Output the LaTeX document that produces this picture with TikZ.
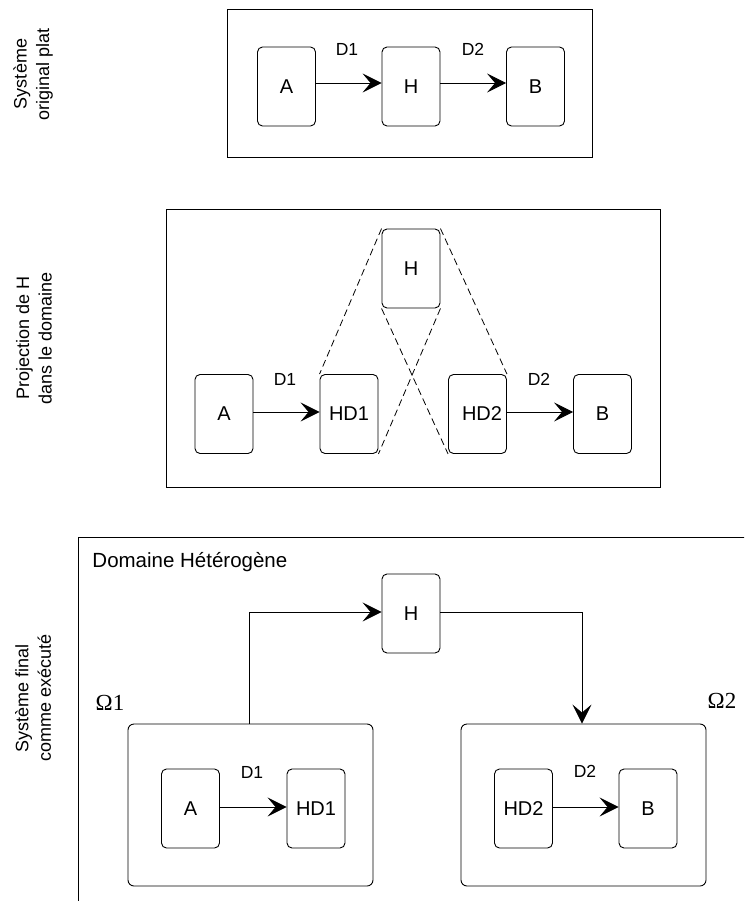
\documentclass[tikz,border=0pt]{standalone}
\usepackage{fontspec}
\setmainfont{Liberation Sans}
\newfontfamily\greekserif{Liberation Serif}
\usetikzlibrary{arrows.meta}

\begin{document}
\begin{tikzpicture}[x=1pt, y=-1pt,
  line width=0.9pt,
  box/.style={draw, rounded corners=5pt, minimum width=58pt, minimum height=79pt,
    inner sep=0pt, font=\fontsize{20}{24}\selectfont},
  domainbox/.style={draw, rounded corners=6pt, minimum width=245pt, minimum height=162pt,
    inner sep=0pt},
  flowlabel/.style={inner sep=0pt, font=\fontsize{17.5}{21}\selectfont},
  sidelabel/.style={rotate=90, align=center, inner sep=0pt, font=\fontsize{18}{22.5}\selectfont},
  omegalabel/.style={inner sep=0pt, font=\greekserif\fontsize{23}{27}\selectfont},
  arr/.style={-{Stealth[length=19pt, width=19pt, inset=8pt]}},
  proj/.style={dash pattern=on 7pt off 4pt, line width=0.8pt}
]
\useasboundingbox (0,0) rectangle (744,901);

% ---------- row 1: flat original system ----------
\node[sidelabel] (lab1) at (33,74) {Système\\original plat};
\draw (227,9) rectangle (592,157);
\node[box] (a1) at (286.5,86.5) {A};
\node[box] (h1) at (411,86.5) {H};
\node[box] (b1) at (535.5,86.5) {B};
\node[flowlabel] (d11) at (347,49) {D1};
\node[flowlabel] (d21) at (473,49) {D2};
\draw[arr] ([yshift=3.5pt]a1.east) -- ([yshift=3.5pt]h1.west);
\draw[arr] ([yshift=3.5pt]h1.east) -- ([yshift=3.5pt]b1.west);

% ---------- row 2: H projected into the domain ----------
\node[sidelabel] (lab2) at (34,338) {Projection de H\\dans le domaine};
\draw (166,209) rectangle (660,487);
\node[box] (h2) at (411,268.5) {H};
\node[box] (a2) at (224,414) {A};
\node[box] (hd12) at (349,414) {HD1};
\node[box] (hd22) at (477.5,414) {\hspace*{9pt}HD2};
\node[box] (b2) at (602.5,414) {B};
\node[flowlabel] (d12) at (285,379) {D1};
\node[flowlabel] (d22) at (539,379) {D2};
\draw[arr] ([yshift=2pt]a2.east) -- ([yshift=2pt]hd12.west);
\draw[arr] ([yshift=2pt]hd22.east) -- ([yshift=2pt]b2.west);
\draw[proj] (h2.north west) -- (hd12.north west);
\draw[proj] (h2.north east) -- (hd22.north east);
\draw[proj] (h2.south west) -- (hd22.south west);
\draw[proj] (h2.south east) -- (hd12.south east);

% ---------- row 3: final system as executed ----------
\node[sidelabel] (lab3) at (33,698) {Système final\\comme exécuté};
\begin{scope}
  \clip (0,0) rectangle (744,901);
  \draw (78,537) rectangle (770,930);
\end{scope}
\node[anchor=west, inner sep=0pt, font=\fontsize{20.5}{24}\selectfont] (dom) at (92,562) {Domaine Hétérogène};
\node[box] (h3) at (411,613.5) {H};
\node[omegalabel] (om1lab) at (110,703) {Ω1};
\node[omegalabel] (om2lab) at (722,701) {Ω2};
\node[domainbox] (om1) at (250.5,805) {};
\node[domainbox] (om2) at (583.5,805) {};
\node[box] (a3) at (190.5,808.5) {A};
\node[box] (hd13) at (316,808.5) {HD1};
\node[box] (hd23) at (523.5,808.5) {HD2};
\node[box] (b3) at (648,808.5) {B};
\node[flowlabel] (d13) at (252,772) {D1};
\node[flowlabel] (d23) at (585,771) {D2};
\draw[arr] ([yshift=1.5pt]a3.east) -- ([yshift=1.5pt]hd13.west);
\draw[arr] ([yshift=1.5pt]hd23.east) -- ([yshift=1.5pt]b3.west);
\draw[arr] ([xshift=-1.5pt]om1.north) |- ([yshift=1.5pt]h3.west);
\draw[arr] ([yshift=1.5pt]h3.east) -| ([xshift=-1.5pt]om2.north);
\end{tikzpicture}
\end{document}
